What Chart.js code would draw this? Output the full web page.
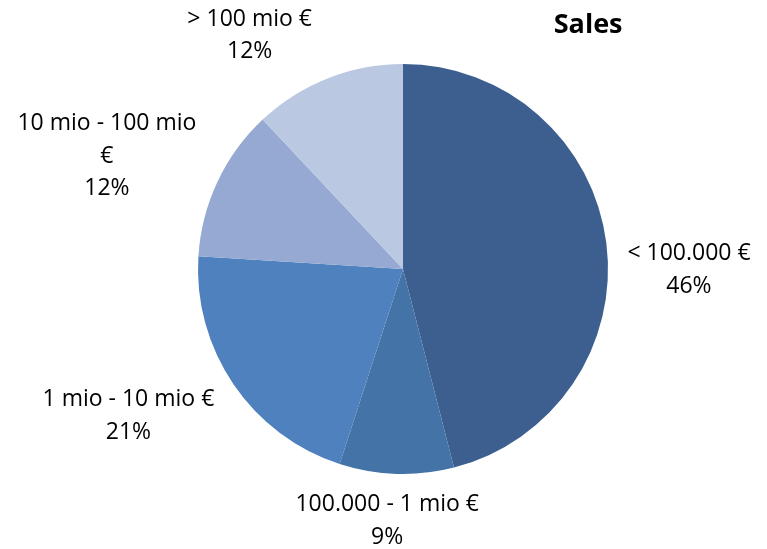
<!DOCTYPE html>
<html>
<head>
<meta charset="utf-8">
<script src="https://cdn.jsdelivr.net/npm/chart.js@4/dist/chart.umd.min.js"></script>
<style>
html,body{margin:0;padding:0;background:#fff;}
#wrap{width:767px;height:549px;position:relative;}
</style>
</head>
<body>
<div id="wrap"><canvas id="c" width="767" height="549"></canvas></div>
<script>
const categories = ["< 100.000 €", "100.000 - 1 mio €", "1 mio - 10 mio €", "10 mio - 100 mio €", "> 100 mio €"];
const labelLines = [["< 100.000 €"], ["100.000 - 1 mio €"], ["1 mio - 10 mio €"], ["10 mio - 100 mio", "€"], ["> 100 mio €"]];
const values = [46, 9, 21, 12, 12];
const colors = ["#3C5F8F", "#4473A7", "#4E81BD", "#95A9D2", "#BAC8E2"];
const chartTitle = "Sales";

// label placement: polar angle (deg clockwise from top) and distance as fraction of radius
const labelPlacement = [
  {angle: 90, dist: 1.395},
  {angle: 183.6, dist: 1.227},
  {angle: 242, dist: 1.517},
  {angle: 291, dist: 1.547},
  {angle: 326.8, dist: 1.366}
];

const FONT = "'Open Sans', 'Liberation Sans', sans-serif";

const labelPlugin = {
  id: 'pieLabels',
  afterDraw(chart) {
    const ctx = chart.ctx;
    const meta = chart.getDatasetMeta(0);
    const total = values.reduce((a, b) => a + b, 0);
    ctx.save();
    ctx.fillStyle = '#000';
    ctx.textAlign = 'center';
    ctx.textBaseline = 'middle';
    ctx.font = "23px " + FONT;
    const lh = 32.5;
    meta.data.forEach((arc, i) => {
      const p = labelPlacement[i];
      const a = p.angle * Math.PI / 180;
      const cx = arc.x + Math.sin(a) * arc.outerRadius * p.dist;
      const cy = arc.y - Math.cos(a) * arc.outerRadius * p.dist;
      const lines = labelLines[i].concat([Math.round(values[i] / total * 100) + "%"]);
      const y0 = cy - (lines.length - 1) * lh / 2 + 1;
      lines.forEach((t, k) => ctx.fillText(t, cx, y0 + k * lh));
    });
    // title
    ctx.font = "bold 27px " + FONT;
    ctx.fillText(chartTitle, meta.data[0].x + meta.data[0].outerRadius * 0.903, 25);
    ctx.restore();
  }
};

new Chart(document.getElementById('c'), {
  type: 'pie',
  data: {
    labels: categories,
    datasets: [{
      data: values,
      backgroundColor: colors,
      borderWidth: 0
    }]
  },
  options: {
    responsive: false,
    animation: false,
    layout: {padding: {top: 64, bottom: 75, left: 198, right: 159}},
    plugins: {
      legend: {display: false},
      title: {display: false},
      tooltip: {enabled: false}
    }
  },
  plugins: [labelPlugin]
});
</script>
</body>
</html>
